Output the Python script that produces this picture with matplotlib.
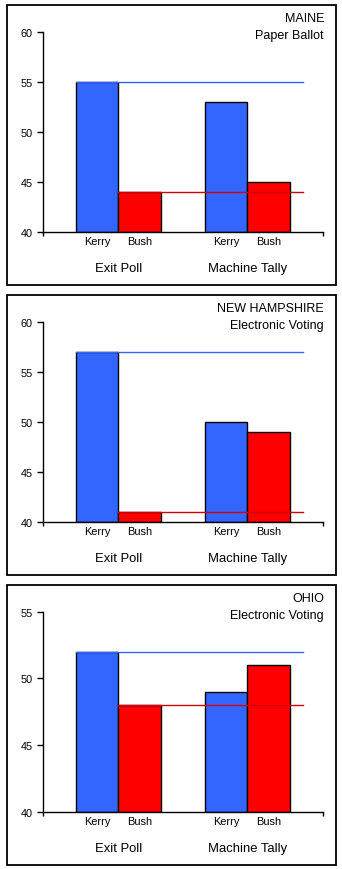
import matplotlib
matplotlib.use("Agg")
from matplotlib import pyplot as plt
from matplotlib.patches import Rectangle

plt.rcParams['font.family'] = ['Liberation Sans', 'DejaVu Sans']

# data
states = ['MAINE', 'NEW HAMPSHIRE', 'OHIO']
methods = ['Paper Ballot', 'Electronic Voting', 'Electronic Voting']
groups = ['Exit Poll', 'Machine Tally']
candidates = ['Kerry', 'Bush']
kerry = [[55, 53], [57, 50], [52, 49]]
bush = [[44, 45], [41, 49], [48, 51]]
ytops = [60, 60, 55]
ybottom = 40

blue = '#3366FF'
red = '#FF0000'
red_line = '#D40000'

W, H = 342, 870
fig = plt.figure(figsize=(W / 100, H / 100), dpi=100)


def px_axes(x0, y0, x1, y1):
    # pixel box (top-left origin) -> figure axes
    return fig.add_axes([x0 / W, 1 - y1 / H, (x1 - x0) / W, (y1 - y0) / H])


group_centers = [75.0, 204.0]
bw = 42.5
line_end = 259.5

for i in range(3):
    off = 290 * i
    # panel frame
    fig.patches.append(Rectangle((6.5 / W, 1 - (off + 286) / H), 329 / W, 280 / H,
                                 transform=fig.transFigure, fill=False,
                                 edgecolor='black', lw=1.3))
    ax = px_axes(43.3, off + 32.7, 323.3, off + 233)
    ax.set_xlim(0, 280)
    ax.set_ylim(ybottom, ytops[i])
    for s in ['top', 'right']:
        ax.spines[s].set_visible(False)
    for s in ['left', 'bottom']:
        ax.spines[s].set_linewidth(1.0)
    ax.set_yticks(range(ybottom, ytops[i] + 1, 5))
    ax.tick_params(axis='y', direction='out', length=4, width=1, pad=3.6, labelsize=7.8)
    ax.set_xticks([0, 280])
    ax.set_xticklabels([])
    ax.tick_params(axis='x', direction='out', length=3, width=1)

    kx = [c - bw / 2 for c in group_centers]
    bx = [c + bw / 2 for c in group_centers]
    ax.bar(kx, [v - ybottom for v in kerry[i]], bw, bottom=ybottom, color=blue,
           edgecolor='black', lw=1, zorder=2)
    ax.bar(bx, [v - ybottom for v in bush[i]], bw, bottom=ybottom, color=red,
           edgecolor='black', lw=1, zorder=2)
    # exit poll reference lines
    ax.plot([kx[0] - bw / 2, line_end], [kerry[i][0]] * 2, color=blue, lw=1, zorder=3)
    ax.plot([bx[0] - bw / 2, line_end], [bush[i][0]] * 2, color=red_line, lw=1, zorder=3)

    for j, c in enumerate(group_centers):
        ax.text(kx[j], -0.045, candidates[0], transform=ax.get_xaxis_transform(),
                ha='center', va='center', fontsize=7.9)
        ax.text(bx[j], -0.045, candidates[1], transform=ax.get_xaxis_transform(),
                ha='center', va='center', fontsize=7.9)
        ax.text(c, -0.18, groups[j], transform=ax.get_xaxis_transform(),
                ha='center', va='center', fontsize=9.4)

    fig.text(324 / W, 1 - (off + 19) / H, states[i], ha='right', va='center', fontsize=9)
    fig.text(324 / W, 1 - (off + 36) / H, methods[i], ha='right', va='center', fontsize=9)

fig.savefig('out.png', dpi=100)
